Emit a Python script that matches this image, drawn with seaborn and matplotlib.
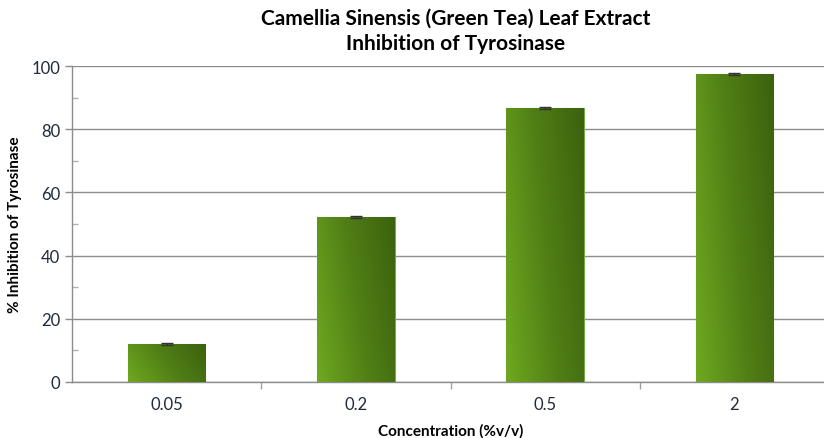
import matplotlib
matplotlib.use("Agg")
import matplotlib.pyplot as plt
import numpy as np
import pandas as pd
import seaborn as sns
from matplotlib.colors import LinearSegmentedColormap
from matplotlib.ticker import MultipleLocator, FixedLocator

concentrations = ["0.05", "0.2", "0.5", "2"]
inhibition = [11.9, 52.2, 86.6, 97.4]
errors = [0.3, 0.3, 0.3, 0.3]

sns.set_theme(style="white")
plt.rcParams["font.family"] = ["Lato", "DejaVu Sans"]

df = pd.DataFrame({"conc": concentrations, "inh": inhibition})

fig = plt.figure(figsize=(8.24, 4.39), dpi=100)
ax = fig.add_axes([72 / 824, 1 - 383 / 439, (829 - 72) / 824, (383 - 67) / 439])

sns.barplot(data=df, x="conc", y="inh", color="#55881a", width=0.41,
            errorbar=None, ax=ax, zorder=3)

# gradient fill: light green at lower-left to dark green at upper-right
cmap = LinearSegmentedColormap.from_list("leaf", ["#6fa820", "#517f16", "#3b620e"])
gx, gy = np.meshgrid(np.linspace(0, 1, 60), np.linspace(0, 1, 60))
grad = 0.75 * gx + 0.25 * gy
for patch in ax.patches:
    x0, y0 = patch.get_x(), patch.get_y()
    w, h = patch.get_width(), patch.get_height()
    im = ax.imshow(grad, cmap=cmap, extent=[x0, x0 + w, y0, y0 + h],
                   origin="lower", aspect="auto", zorder=3.5, interpolation="bilinear")
    im.set_clip_path(patch)
    patch.set_edgecolor("#7aa84a")
    patch.set_linewidth(0.8)

# small error bars
ax.errorbar(range(len(concentrations)), inhibition, yerr=errors, fmt="none",
            ecolor="#333333", elinewidth=1, capsize=4, capthick=1, zorder=5)

ax.set_xlim(-0.5, 3.5)
ax.set_ylim(0, 100)
ax.yaxis.set_major_locator(MultipleLocator(20))
ax.yaxis.set_minor_locator(MultipleLocator(10))
ax.yaxis.grid(True, which="major", color="#8c8c8c", linewidth=1, zorder=0)
ax.set_axisbelow(True)

for side in ["top", "right"]:
    ax.spines[side].set_visible(False)
for side in ["left", "bottom"]:
    ax.spines[side].set_color("#8c8c8c")
    ax.spines[side].set_linewidth(1)

ax.tick_params(axis="y", which="major", direction="out", length=5, width=1,
               color="#8c8c8c", labelsize=12, labelcolor="#1f2a3a", left=True)
ax.tick_params(axis="y", which="minor", direction="in", length=4, width=1,
               color="#b0b0b0", left=True)
ax.set_xticks(range(len(concentrations)))
ax.set_xticklabels(concentrations)
ax.tick_params(axis="x", which="major", length=0, labelsize=12, labelcolor="#1f2a3a", pad=10)
ax.xaxis.set_minor_locator(FixedLocator([0.5, 1.5, 2.5]))
ax.tick_params(axis="x", which="minor", direction="out", length=5, width=1,
               color="#a0a0a0", bottom=True)

ax.set_xlabel("Concentration (%v/v)", fontsize=11, fontweight="bold", labelpad=8,
              color="black")
ax.set_ylabel("% Inhibition of Tyrosinase", fontsize=11, fontweight="bold", labelpad=7,
              color="black")

fig.suptitle("Camellia Sinensis (Green Tea) Leaf Extract\nInhibition of Tyrosinase",
             x=0.553, y=0.98, fontsize=15, fontweight="bold", linespacing=1.3,
             color="black")

fig.savefig("out.png", dpi=100)
